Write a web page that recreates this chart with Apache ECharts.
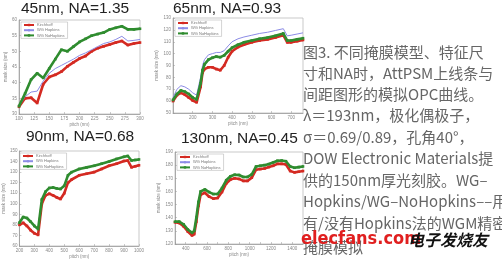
<!DOCTYPE html>
<html><head><meta charset="utf-8">
<script src="https://cdn.jsdelivr.net/npm/echarts@6/dist/echarts.min.js"></script>
<style>html,body{margin:0;padding:0;background:#fff}#c{width:502px;height:260px}</style>
</head><body><div id="c"></div>
<script>
// ---- data ----
const seriesNames = ['Kirchhoff', 'WG Hopkins', 'WG NoHopkins'];
const titles = ['45nm, NA=1.35', '65nm, NA=0.93', '90nm, NA=0.68', '130nm, NA=0.45'];

const pitch45 = [100,110,120,130,140,150,160,170,180,190,200,210,220,230,240,250,260,270,280,290,300];
const kirch45 = [32.3,35,35.2,33.5,39.5,41.8,42.5,43.5,45.2,46.5,47.7,48.5,50,51,51.6,52.2,52.8,53.3,52,52.5,52.8];
const hop45   = [32.5,35.5,37,37.3,40.5,43,44.5,45.5,46.5,47.5,48.7,49.5,50.5,51.5,52.5,53,53.8,54.8,53.3,53.5,53.8];
const nohop45 = [32.5,36.5,41,43,41.5,44.5,47.5,50.5,50,51.5,53,54,55,55.5,56,57,57.5,58,57,57,57.2];

const pitch65 = [100,120,140,160,180,200,220,240,250,260,280,300,320,340,360,380,400,430,460,500,540,580,620,660,680,700,730,760];
const kirch65 = [60,65,67,65.5,63,60.5,59,72,84,87,88.5,88.5,87,86,90,97,102,105.5,107.5,109.5,111,112,113.5,115.5,109.5,109.5,110.5,111.5];
const hop65   = [63,70,73,72,70,67,65,80,90,95,99,100,101,101,102.5,106.5,110,112.5,114,115.5,117,118,119.5,121,115,115.5,116.5,117.5];
const nohop65 = [61,66,69,68,66,63,61.5,75,86,91,95,96.5,97.5,97,98.5,102,105,107.5,109.5,111,112.5,113.5,115,117,111,111,112,113];

const pitch90 = [200,225,250,275,300,325,350,375,400,425,450,475,500,525,550,600,650,700,750,800,850,900,925,950,975,1000];
const kirch90 = [80,82,79,75,72,70.5,100,108,109.5,108,106,104.5,110,120,123,127,128.5,130,133,136,138,140.5,141,134.5,135.5,136.5];
const hop90   = [81.8,87.3,86.3,82.8,78.8,75.8,103.8,111.3,114.8,115.3,114.3,113.8,116.8,126.8,129.8,132.8,134.3,135.8,137.8,139.8,142.3,144.3,145.1,140.8,141.3,141.8];
const nohop90 = [82,87.5,86.5,83,79,76,104,111.5,115,115.5,114.5,114,117,127,130,133,134.5,136,138,140,142.5,144.5,145.3,141,141.5,142];

const pitch130 = [300,340,380,420,460,480,500,520,540,580,620,660,700,740,780,820,860,900,940,980,1020,1060,1100,1140,1180,1220,1260,1300,1340,1380,1420,1460,1500];
const kirch130 = [136.5,136,133.5,129.5,126.5,127.5,137,149,157.5,159,156,154.5,155,159.5,166,169,170,169.5,168,168,170.5,176.5,177,177.5,178.5,179.5,181,181,180.5,175.5,174.5,175,175.5];
const hop130   = [136.8,136.8,134.8,130.8,128.3,129.8,139.8,151.8,159.8,161.3,159.3,157.8,157.8,162.3,168.3,171.3,172.5,172.3,170.8,170.8,172.8,178.8,179.3,179.8,180.6,181.8,183.1,183.3,182.8,178.8,177.8,178.3,178.8];
const nohop130 = [137,137,135,131,128.5,130,140,152,160,161.5,159.5,158,158,162.5,168.5,171.5,172.7,172.5,171,171,173,179,179.5,180,180.8,182,183.3,183.5,183,179,178,178.5,179];

const yTicks = [[30,60,5],[50,130,10],[60,150,10],[120,190,10]];
const xTicks = [[100,300,25],[100,760,100],[200,1000,100],[300,1500,100]];

const captionLines = [
  '图3. 不同掩膜模型、特征尺',
  '寸和NA时，AttPSM上线条与',
  '间距图形的模拟OPC曲线。',
  'λ＝193nm，极化偶极子，',
  'σ＝0.69/0.89，孔角40°，',
  'DOW Electronic Materials提',
  '供的150nm厚光刻胶。WG–',
  'Hopkins/WG–NoHopkins––用',
  '有/没有Hopkins法的WGM精密',
  '掩膜模拟'
];

// ---- layout ----
const grids = [
  {left:19, top:20, width:121, height:94},
  {left:173, top:18, width:130, height:95},
  {left:18, top:151, width:121, height:95},
  {left:175, top:152, width:128, height:92}
];
const titlePos = [[21,1],[173,1],[26,129],[181,131]];
const data = [
  [pitch45, kirch45, hop45, nohop45],
  [pitch65, kirch65, hop65, nohop65],
  [pitch90, kirch90, hop90, nohop90],
  [pitch130, kirch130, hop130, nohop130]
];

const option = {
  backgroundColor:'#fff', animation:false,
  title:[], grid:[], xAxis:[], yAxis:[], series:[], legend:[], graphic:[]
};
const colors = ['#d42a22', '#8c8ce6', '#2f8c2f'];
const lab = {fontSize:4.5, color:'#888', fontFamily:'Liberation Sans'};
grids.forEach((g, i) => {
  option.title.push({text:titles[i], left:titlePos[i][0], top:titlePos[i][1], padding:0,
    textStyle:{fontSize:15.5, fontWeight:'normal', color:'#222', fontFamily:'"Liberation Sans", Arial, sans-serif'}});
  option.grid.push(Object.assign({show:true, borderColor:'#bbb', borderWidth:0.8, backgroundColor:'#fff'}, g));
  const xt = xTicks[i], yt = yTicks[i];
  option.xAxis.push({type:'value', gridIndex:i, min:xt[0], max:xt[1], interval:xt[2],
    name:'pitch (nm)', nameLocation:'middle', nameGap:7, nameTextStyle:lab,
    axisLine:{lineStyle:{color:'#999', width:0.8}}, axisTick:{inside:true, length:2, lineStyle:{color:'#999', width:0.5}},
    axisLabel:Object.assign({margin:2, formatter: v => (i===3 && v%200!==0) ? '' : v,
      showMaxLabel: i!==1, showMinLabel: i!==1}, lab),
    splitLine:{show:false}});
  option.yAxis.push({type:'value', gridIndex:i, min:yt[0], max:yt[1], interval:yt[2],
    name:'mask size (nm)', nameLocation:'middle', nameGap:10, nameTextStyle:lab,
    axisLine:{lineStyle:{color:'#999', width:0.8}}, axisTick:{inside:true, length:2, lineStyle:{color:'#999', width:0.5}},
    axisLabel:Object.assign({margin:2}, lab), splitLine:{show:false}});
  const d = data[i];
  [1,2,3].forEach((k, j) => {
    const isBlue = j===1;
    option.series.push({
      type:'line', name:seriesNames[j], xAxisIndex:i, yAxisIndex:i,
      data:d[0].map((p, n) => [p, d[k][n]]),
      z: isBlue ? 3 : (j===2 ? 4 : 2),
      symbol: isBlue ? 'none' : 'rect', symbolSize:2.6, showSymbol:!isBlue,
      lineStyle:{color:colors[j], width: isBlue ? 1 : 2.6},
      itemStyle:{color:colors[j]}
    });
  });
  option.legend.push({
    data:seriesNames, orient:'vertical', left:g.left+2, top:g.top+2,
    itemWidth:10, itemHeight:3, itemGap:1.2, padding:[1,3,1,2],
    borderColor:'#aaa', borderWidth:0.5, backgroundColor:'#fff',
    textStyle:{fontSize:4, color:'#777', padding:[0,0,0,-2]}
  });
});

const lineY = [55, 76, 97, 118, 140, 161, 183, 204, 226, 250];
captionLines.forEach((t, i) => {
  option.graphic.push({type:'text', left:303, top:lineY[i] - 10, z:10,
    style:{text:t, font:'15px "Noto Sans CJK SC", sans-serif', fill:'#666'}});
});
option.graphic.push({type:'text', left:301, top:230, z:20,
  style:{text:'elecfans.com', font:'bold 18px "Liberation Sans Narrow", "DejaVu Sans Condensed", sans-serif', fill:'#e01f1f'}});
option.graphic.push({type:'text', left:408, top:232, z:20,
  style:{text:'电子发烧友', font:'italic bold 16px "Noto Sans CJK SC", sans-serif', fill:'#111'}});

const chart = echarts.init(document.getElementById('c'), null, {renderer:'canvas'});
chart.setOption(option);
</script></body></html>
